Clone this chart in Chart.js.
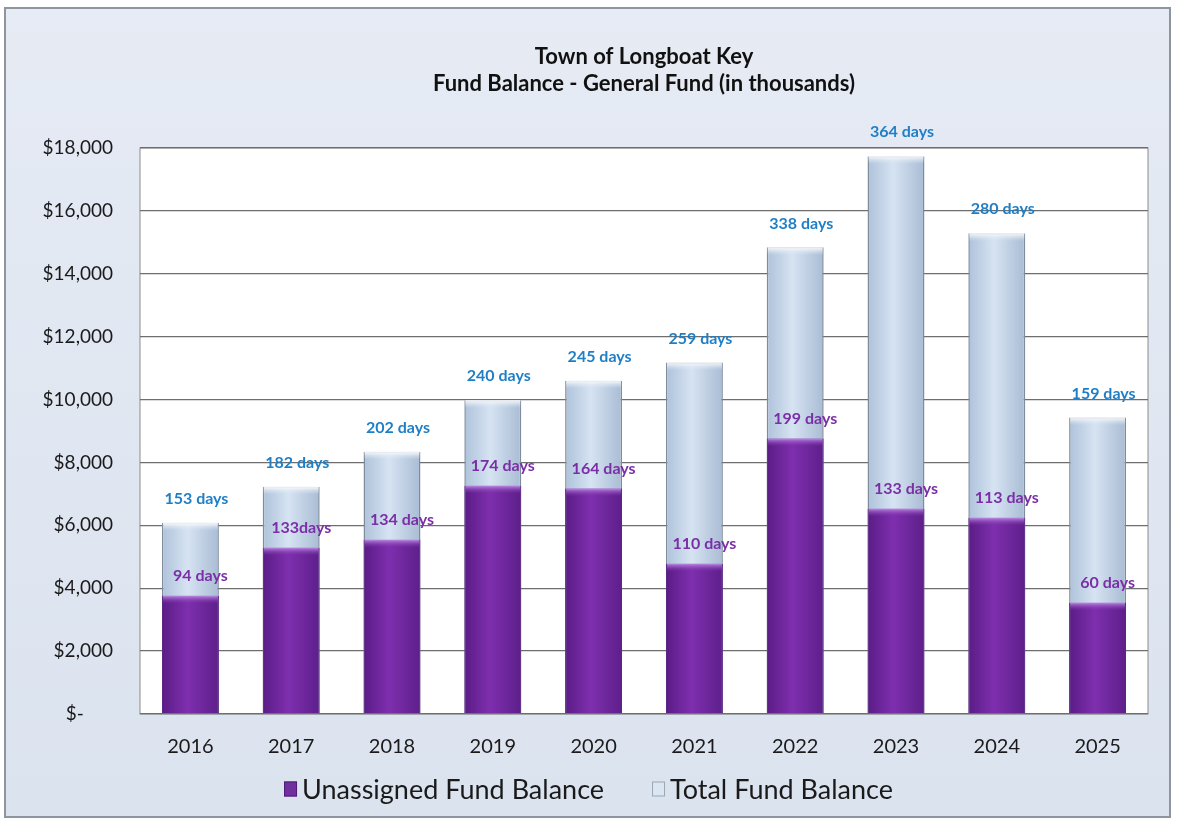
<!DOCTYPE html>
<html>
<head>
<meta charset="utf-8">
<script src="https://cdn.jsdelivr.net/npm/chart.js@4.4.0/dist/chart.umd.min.js"></script>
<style>
  html, body { margin: 0; padding: 0; background: #fff; }
  canvas { display: block; }
</style>
</head>
<body>
<canvas id="fundbalance" width="1177" height="819"></canvas>
<script>
  // data (in thousands)
  const years = ['2016', '2017', '2018', '2019', '2020', '2021', '2022', '2023', '2024', '2025'];
  const unassigned = [3760, 5290, 5540, 7260, 7170, 4780, 8760, 6530, 6240, 3540];
  const totalBalance = [6080, 7230, 8340, 9980, 10600, 11180, 14840, 17740, 15290, 9430];
  const unassignedDays = ['94 days', '133days', '134 days', '174 days', '164 days', '110 days', '199 days', '133 days', '113 days', '60 days'];
  const totalDays = ['153 days', '182 days', '202 days', '240 days', '245 days', '259 days', '338 days', '364 days', '280 days', '159 days'];
  const yTicks = [0, 2000, 4000, 6000, 8000, 10000, 12000, 14000, 16000, 18000];

  const FONT = 'Lato, "Open Sans", sans-serif';
  const BAR_PCT = 0.565;

  // horizontal "cylinder" gradient for each bar
  function barFill(stops) {
    return function (ctx) {
      const chart = ctx.chart;
      if (!chart.chartArea || ctx.type !== 'data') return stops[1];
      const xs = chart.scales.x;
      const x = xs.getPixelForValue(ctx.dataIndex);
      const half = xs.width / years.length * BAR_PCT / 2;
      const g = chart.ctx.createLinearGradient(x - half, 0, x + half, 0);
      g.addColorStop(0, stops[0]);
      g.addColorStop(0.45, stops[1]);
      g.addColorStop(1, stops[2]);
      return g;
    };
  }

  // background of the whole picture and white plot area
  const backdrop = {
    id: 'backdrop',
    beforeDraw(chart) {
      const { ctx, chartArea: a } = chart;
      ctx.save();
      const g = ctx.createLinearGradient(0, 0, 0, chart.height);
      g.addColorStop(0, '#e6ebf4');
      g.addColorStop(1, '#dbe3ef');
      ctx.fillStyle = '#ffffff';
      ctx.fillRect(0, 0, chart.width, chart.height);
      ctx.fillStyle = g;
      ctx.fillRect(5, 8, chart.width - 12, chart.height - 10);
      ctx.strokeStyle = '#8e959e';
      ctx.lineWidth = 2;
      ctx.strokeRect(5, 8, chart.width - 12, chart.height - 10);
      ctx.fillStyle = '#ffffff';
      ctx.fillRect(a.left, a.top, a.right - a.left, a.bottom - a.top);
      ctx.strokeStyle = '#8c8c8c';
      ctx.lineWidth = 1;
      ctx.strokeRect(a.left, a.top, a.right - a.left, a.bottom - a.top);
      ctx.restore();
    }
  };

  // light caps on the bar tops and the "days" labels
  const dayLabels = {
    id: 'dayLabels',
    afterDatasetsDraw(chart) {
      const ctx = chart.ctx;
      ctx.save();
      chart.data.datasets.forEach((ds, i) => {
        const meta = chart.getDatasetMeta(i);
        meta.data.forEach((bar, j) => {
          const w = bar.width;
          const cap = ctx.createLinearGradient(0, bar.y, 0, bar.y + 8);
          if (ds.label === 'Unassigned Fund Balance') {
            cap.addColorStop(0, 'rgba(190,140,230,0.95)');
            cap.addColorStop(1, 'rgba(130,50,170,0)');
          } else {
            cap.addColorStop(0, 'rgba(255,255,255,0.95)');
            cap.addColorStop(1, 'rgba(215,228,242,0)');
          }
          ctx.fillStyle = cap;
          ctx.fillRect(bar.x - w / 2 + 1, bar.y, w - 2, 8);
        });
      });
      ctx.font = 'bold 16px ' + FONT;
      ctx.textAlign = 'center';
      ctx.textBaseline = 'middle';
      chart.data.datasets.forEach((ds, i) => {
        const meta = chart.getDatasetMeta(i);
        meta.data.forEach((bar, j) => {
          if (ds.label === 'Unassigned Fund Balance') {
            ctx.fillStyle = '#7a2fa6';
            ctx.fillText(ds.days[j], bar.x + 10, bar.y - 20);
          } else {
            ctx.fillStyle = '#1f7fc6';
            ctx.fillText(ds.days[j], bar.x + 6, bar.y - 24);
          }
        });
      });
      ctx.restore();
    }
  };

  // legend drawn below the axis, boxes close to their text
  const bottomLegend = {
    id: 'bottomLegend',
    afterDraw(chart) {
      const ctx = chart.ctx;
      const y = 789;
      const items = chart.data.datasets.map(ds => ({ text: ds.label, fill: ds.legendFill, stroke: ds.legendStroke }));
      ctx.save();
      ctx.font = '27px ' + FONT;
      ctx.textBaseline = 'middle';
      ctx.textAlign = 'left';
      const boxW = 13, boxH = 15, gapBox = 5, gapItem = 48;
      const widths = items.map(it => ctx.measureText(it.text).width);
      const total = widths.reduce((s, w) => s + boxW + gapBox + w, 0) + gapItem * (items.length - 1);
      let x = chart.width / 2 - total / 2;
      items.forEach((it, k) => {
        ctx.fillStyle = it.fill;
        ctx.fillRect(x, y - boxH / 2, boxW, boxH);
        ctx.strokeStyle = it.stroke;
        ctx.lineWidth = 1;
        ctx.strokeRect(x + 0.5, y - boxH / 2 + 0.5, boxW - 1, boxH - 1);
        x += boxW + gapBox;
        ctx.fillStyle = '#1a1a1a';
        ctx.fillText(it.text, x, y + 1);
        x += widths[k] + gapItem;
      });
      ctx.restore();
    }
  };

  const config = {
    type: 'bar',
    data: {
      labels: years,
      datasets: [
        {
          label: 'Unassigned Fund Balance',
          data: unassigned,
          days: unassignedDays,
          order: 0,
          backgroundColor: barFill(['#5a1c86', '#7e2fae', '#5d1f8a']),
          borderColor: '#5a1f84',
          borderWidth: 1,
          legendFill: '#7030a0',
          legendStroke: '#4f1d75'
        },
        {
          label: 'Total Fund Balance',
          data: totalBalance,
          days: totalDays,
          order: 1,
          backgroundColor: barFill(['#aec2da', '#d6e3f2', '#a9bcd4']),
          borderColor: '#7f8c9c',
          borderWidth: 1.5,
          legendFill: '#dbe6f3',
          legendStroke: '#9aa6b4'
        }
      ]
    },
    options: {
      responsive: false,
      animation: false,
      grouped: false,
      categoryPercentage: 1,
      barPercentage: BAR_PCT,
      layout: { padding: { left: 10, right: 29, top: 0, bottom: 47 } },
      plugins: {
        title: {
          display: true,
          fullSize: false,
          text: ['Town of Longboat Key', 'Fund Balance - General Fund (in thousands)'],
          color: '#111111',
          font: { family: FONT, size: 22, weight: 'bold', lineHeight: 1.25 },
          padding: { top: 43, bottom: 50 }
        },
        legend: { display: false },
        tooltip: { enabled: false }
      },
      scales: {
        x: {
          grid: { display: false },
          border: { display: false },
          ticks: { color: '#1a1a1a', font: { family: FONT, size: 20 }, padding: 13 }
        },
        y: {
          min: 0,
          max: 18000,
          afterBuildTicks(axis) {
            axis.ticks = yTicks.map(v => ({ value: v }));
          },
          afterFit(axis) { axis.width = 130; },
          grid: { color: '#6e6e6e', lineWidth: 1.3, drawTicks: false },
          border: { display: false },
          ticks: {
            color: '#1a1a1a',
            font: { family: FONT, size: 19 },
            padding: 27,
            callback: v => v === 0 ? '$-      ' : '$' + v.toLocaleString('en-US')
          }
        }
      }
    },
    plugins: [backdrop, dayLabels, bottomLegend]
  };

  new Chart(document.getElementById('fundbalance'), config);
</script>
</body>
</html>
